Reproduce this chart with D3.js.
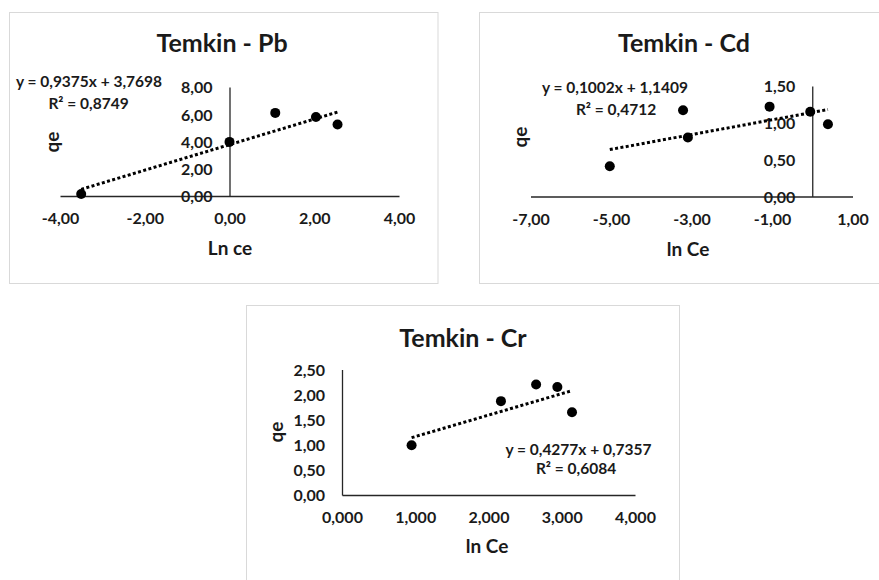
<!DOCTYPE html>
<html>
<head>
<meta charset="utf-8">
<script src="https://cdn.jsdelivr.net/npm/d3@7"></script>
<style>
    body { margin: 0; background: #fff; }
    text { font-family: Lato, "Open Sans", sans-serif; font-weight: bold; fill: #1a1a1a; }
</style>
</head>
<body>
<svg id="chart" width="879" height="580"></svg>
<script>
// values
const pbLnCe = [-3.5, 0.0, 1.08, 2.04, 2.55];
const pbQe = [0.15, 3.97, 6.1, 5.8, 5.25];
const pbTrend = [0.9375, 3.7698];
const pbLabels = ["y = 0,9375x + 3,7698", "R² = 0,8749"];
const pbXTicks = [-4, -2, 0, 2, 4];
const pbYTicks = [0, 2, 4, 6, 8];

const cdLnCe = [-5.03, -3.21, -3.09, -1.06, -0.05, 0.39];
const cdQe = [0.41, 1.17, 0.80, 1.22, 1.15, 0.98];
const cdTrend = [0.1002, 1.1409];
const cdLabels = ["y = 0,1002x + 1,1409", "R² = 0,4712"];
const cdXTicks = [-7, -5, -3, -1, 1];
const cdYTicks = [0, 0.5, 1, 1.5];

const crLnCe = [0.95, 2.17, 2.65, 2.94, 3.14];
const crQe = [0.99, 1.87, 2.20, 2.15, 1.65];
const crTrend = [0.4277, 0.7357];
const crLabels = ["y = 0,4277x + 0,7357", "R² = 0,6084"];
const crXTicks = [0, 1, 2, 3, 4];
const crYTicks = [0, 0.5, 1, 1.5, 2, 2.5];

const svg = d3.select('#chart');
const comma = (fmt) => (v) => d3.format(fmt)(v).replace('.', ',').replace('−', '-');

const panels = [
    {
        title: "Temkin - Pb", xLabel: "Ln ce", xs: pbLnCe, ys: pbQe, trend: pbTrend, eq: pbLabels,
        xTicks: pbXTicks, yTicks: pbYTicks, xFmt: comma(".2f"), yFmt: comma(".2f"),
        box: [9.5, 12.5, 428.5, 271], xRange: [60, 399], yRange: [196, 87],
        titlePos: [222, 52], xLabelPos: [230, 255], yLabelPos: [52, 142],
        eqPos: [[89, 87], [88.5, 108.5]]
    },
    {
        title: "Temkin - Cd", xLabel: "ln Ce", xs: cdLnCe, ys: cdQe, trend: cdTrend, eq: cdLabels,
        xTicks: cdXTicks, yTicks: cdYTicks, xFmt: comma(".2f"), yFmt: comma(".2f"),
        box: [479.5, 12.5, 420, 271], xRange: [530.5, 852.5], yRange: [196.5, 86],
        titlePos: [684, 52], xLabelPos: [688, 256], yLabelPos: [520, 137],
        eqPos: [[615, 92.5], [616, 115]]
    },
    {
        title: "Temkin - Cr", xLabel: "ln Ce", xs: crLnCe, ys: crQe, trend: crTrend, eq: crLabels,
        xTicks: crXTicks, yTicks: crYTicks, xFmt: comma(".3f"), yFmt: comma(".2f"),
        box: [246.5, 305.5, 433, 290], xRange: [342, 635], yRange: [495, 369.5],
        titlePos: [463, 347], xLabelPos: [487, 553], yLabelPos: [276, 432],
        eqPos: [[578.5, 454.5], [576, 473.5]]
    }
];

panels.forEach(drawPanel);

function drawPanel(p) {
    const g = svg.append("g");
    const [bx, by, bw, bh] = p.box;

    g.append("rect")
        .attr("x", bx).attr("y", by)
        .attr("width", bw).attr("height", bh)
        .attr("fill", "#fff")
        .attr("stroke", "#d9d9d9")
        .attr("stroke-width", 1);

    const x = d3.scaleLinear()
        .domain(d3.extent(p.xTicks))
        .range(p.xRange);
    const y = d3.scaleLinear()
        .domain(d3.extent(p.yTicks))
        .range(p.yRange);

    // x axis sits at qe = 0, y axis at ln Ce = 0
    const xAxis = g.append("g")
        .attr("transform", `translate(0,${y(0)})`)
        .call(d3.axisBottom(x).tickValues(p.xTicks).tickFormat(p.xFmt).tickSize(0).tickPadding(17));
    const yAxis = g.append("g")
        .attr("transform", `translate(${x(0)},0)`)
        .call(d3.axisLeft(y).tickValues(p.yTicks).tickFormat(p.yFmt).tickSize(0).tickPadding(17));

    [xAxis, yAxis].forEach(a => {
        a.select(".domain").attr("stroke", "#262626").attr("stroke-width", 1.3);
        a.selectAll("text")
            .attr("fill", "#1a1a1a")
            .style("font-family", "Lato, sans-serif")
            .style("font-weight", "bold")
            .style("font-size", "16px");
    });
    yAxis.selectAll("text").attr("dy", "0.36em");

    g.append("text")
        .attr("x", p.titlePos[0]).attr("y", p.titlePos[1])
        .attr("text-anchor", "middle")
        .style("font-size", "25px")
        .text(p.title);

    g.append("text")
        .attr("x", p.xLabelPos[0]).attr("y", p.xLabelPos[1])
        .attr("text-anchor", "middle")
        .style("font-size", "19px")
        .text(p.xLabel);

    g.append("text")
        .attr("transform", `translate(${p.yLabelPos[0]},${p.yLabelPos[1]}) rotate(-90)`)
        .attr("text-anchor", "middle")
        .attr("dy", "0.35em")
        .style("font-size", "19px")
        .text("qe");

    // linear trendline over the data range
    const [slope, icpt] = p.trend;
    const xr = d3.extent(p.xs);
    g.append("path")
        .datum(xr.map(v => [v, slope * v + icpt]))
        .attr("d", d3.line().x(d => x(d[0])).y(d => y(d[1])))
        .attr("fill", "none")
        .attr("stroke", "#000")
        .attr("stroke-width", 3)
        .attr("stroke-dasharray", "3 2.4");

    g.selectAll("circle")
        .data(d3.zip(p.xs, p.ys))
        .enter()
        .append("circle")
        .attr("cx", d => x(d[0]))
        .attr("cy", d => y(d[1]))
        .attr("r", 5)
        .attr("fill", "#000");

    g.selectAll(".eq")
        .data(p.eq)
        .enter()
        .append("text")
        .attr("class", "eq")
        .attr("x", (d, i) => p.eqPos[i][0])
        .attr("y", (d, i) => p.eqPos[i][1])
        .attr("text-anchor", "middle")
        .style("font-size", "15.5px")
        .text(d => d);
}
</script>
</body>
</html>
